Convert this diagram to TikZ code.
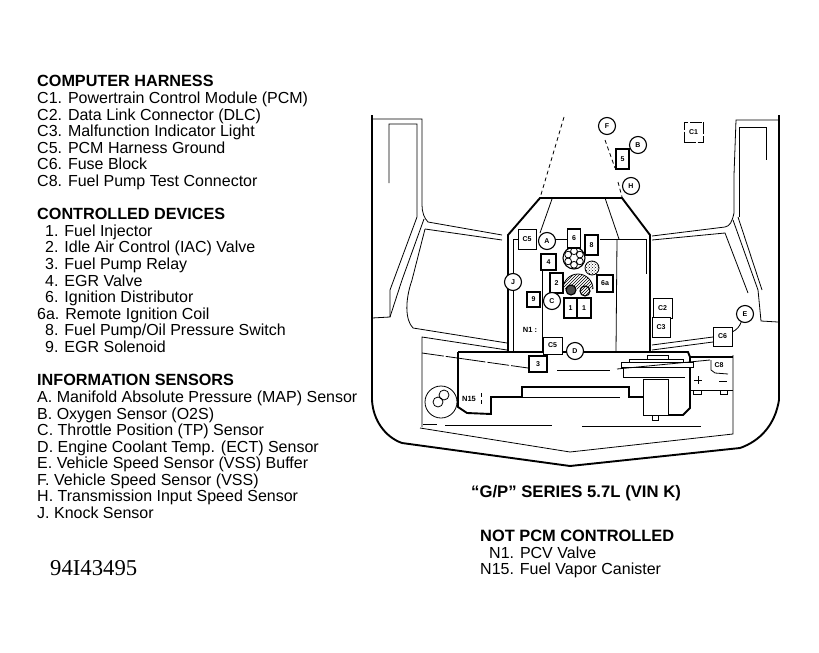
\documentclass[tikz,border=0pt]{standalone}
\usepackage{fontspec}
\setmainfont{Liberation Sans}
\newfontfamily\numserif{Liberation Serif}
\usetikzlibrary{patterns}
\usetikzlibrary{positioning}
\tikzset{
    thinline/.style={line width=0.8pt},
    thickline/.style={line width=1.9pt},
    brokenline/.style={line width=0.8pt, dash pattern=on 22pt off 2pt on 40pt off 2pt},
    dotline/.style={line width=0.8pt, dash pattern=on 4pt off 3pt},
    circlab/.style={draw, circle, line width=1.1pt, fill=white, minimum size=17pt, inner sep=0pt, font=\fontsize{7}{7}\selectfont\bfseries},
    boxlab/.style={draw, rectangle, line width=1.7pt, fill=white, inner sep=0pt, font=\fontsize{7}{7}\selectfont\bfseries},
    lightbox/.style={draw, rectangle, line width=0.7pt, fill=white, inner sep=0pt, font=\fontsize{7}{7}\selectfont\bfseries},
    listtext/.style={anchor=base west, inner sep=0pt, font=\fontsize{16}{18}\selectfont},
    headtext/.style={anchor=base west, inner sep=0pt, font=\fontsize{16.2}{18}\selectfont\bfseries},
}
\begin{document}
\begin{tikzpicture}[x=1pt,y=-1pt]
    \useasboundingbox (0,0) rectangle (819,653);

    \node[headtext] at (37,86) {COMPUTER HARNESS};
    \foreach \yy/\xx/\txt in {103/37/{C1. Powertrain Control Module (PCM)}, 120/37/{C2. Data Link Connector (DLC)}, 136/37/{C3. Malfunction Indicator Light}, 153/37/{C5. PCM Harness Ground}, 169/37/{C6. Fuse Block}, 186/37/{C8. Fuel Pump Test Connector}, 236/45/{1. Fuel Injector}, 252/45/{2. Idle Air Control (IAC) Valve}, 269/45/{3. Fuel Pump Relay}, 286/45/{4. EGR Valve}, 302/45/{6. Ignition Distributor}, 319/37/{6a. Remote Ignition Coil}, 335/45/{8. Fuel Pump/Oil Pressure Switch}, 352/45/{9. EGR Solenoid}, 402/37/{A. Manifold Absolute Pressure (MAP) Sensor}, 419/37/{B. Oxygen Sensor (O2S)}, 435/37/{C. Throttle Position (TP) Sensor}, 452/37/{D. Engine Coolant Temp. (ECT) Sensor}, 468/37/{E. Vehicle Speed Sensor (VSS) Buffer}, 485/37/{F. Vehicle Speed Sensor (VSS)}, 501/37/{H. Transmission Input Speed Sensor}, 518/37/{J. Knock Sensor}}
        \node[listtext] at (\xx,\yy) {\txt};
    \node[headtext] at (37,219) {CONTROLLED DEVICES};
    \node[headtext] at (37,385) {INFORMATION SENSORS};
    \node[anchor=base west, inner sep=0pt, font=\numserif\fontsize{22.7}{24}\selectfont] at (50,575) {94I43495};
    \node[headtext, font=\fontsize{16.7}{18}\selectfont\bfseries] at (471,497) {“G/P” SERIES 5.7L (VIN K)};
    \node[headtext, font=\fontsize{16.4}{18}\selectfont\bfseries] at (480,541) {NOT PCM CONTROLLED};
    \node[listtext] at (489,558) {N1. PCV Valve};
    \node[listtext] at (480,574) {N15. Fuel Vapor Canister};

    \draw[thickline] (372,115) -- (372,400) .. controls (373,420) and (385,437) .. (402,443) -- (570,466) -- (740,448) .. controls (760,441) and (775,425) .. (779,400) -- (779,115);
    \draw[thinline] (372,119) -- (422,119) -- (422,205) .. controls (422,212) and (424,218) .. (428,222) -- (502,235);
    \draw[thinline] (389,183) -- (389,124) -- (417,124) -- (417,217) -- (390,290) -- (390,317) -- (372,318);
    \draw[thinline] (424,219) -- (402,280) -- (390,317);
    \draw[thinline] (425,229) -- (502,240);
    \draw[thinline] (425,229) -- (412,280) .. controls (405,300) and (405,320) .. (413,328) -- (507,343);
    \draw[thinline] (422,427) -- (422,337) -- (507,350);
    \draw[brokenline] (422,353) -- (528,368);
    \draw[thinline] (420,428) -- (570,452) -- (733,434) -- (733,355);
    \draw[thinline] (423,424) -- (437,424) (445,425) -- (552,425) (582,426) -- (701,426);

    \draw[thinline] (779,120) -- (736,120) -- (734,175) -- (734,213) .. controls (732,222) and (730,226) .. (725,227) -- (652,236);
    \draw[thinline] (652,240) -- (725,233) -- (748,293);
    \draw[thinline] (739,217) -- (739,127) -- (766,127) -- (766,160);
    \draw[thinline] (733,220) -- (758,290) -- (761,321) -- (778,322);
    \draw[thinline] (738,217) -- (762,290);

    \draw[thickline] (508,352) -- (508,235) -- (540,198) -- (622,198) -- (650,235) -- (650,352);
    \draw[thinline] (513,352) -- (513,239) -- (518,239);
    \draw[thinline] (552,199) -- (540,233);
    \draw[thinline] (605,198) -- (619,239);
    \draw[thinline] (600,239) -- (646,239) -- (646,274);
    \draw[thinline] (617,239) -- (616,352);
    \draw[thinline] (542,270) -- (542,352);
    \draw[thinline] (554,239) -- (567,239);
    \draw[dotline] (564,117) -- (540,198);
    \draw[dotline] (605,140) -- (615,168);
    \draw[dotline] (618,182) -- (622,197);
    \draw[thinline] (652,345) -- (713,337);
    \draw[thinline] (652,350) -- (713,342);

    \draw[thickline] (458,352) -- (688,352) -- (690,357) -- (690,408) -- (683,415) -- (668,415);
    \draw[thickline] (458,352) -- (458,407) -- (467,413) -- (491,414) -- (491,397) -- (522,397) -- (522,387) -- (629,387) -- (629,397) -- (643,397);
    \draw[thinline] (522,397) -- (620,397);
    \draw[thinline, fill=white] (647,355) rectangle (668,359);
    \draw[thinline, fill=white] (629,359) rectangle (683,362);
    \draw[thinline] (623,367) -- (623,377) -- (685,377);
    \draw[thinline, fill=white] (621,362) rectangle (693,367);
    \draw[thinline, fill=white] (643,379) rectangle (668,415);
    \draw[thinline] (652,415) -- (652,420) -- (658,420) -- (658,415);
    \draw[thinline] (557,370) -- (610,370);
    \draw[thinline] (617,369) -- (710,360);

    \draw[line width=1.3pt] (690,357) -- (733,357);
    \draw[thinline] (690,390) -- (733,390);
    \draw[thinline] (693,390) rectangle (701,394);
    \draw[thinline] (720,390) rectangle (727,394);
    \draw[thinline] (698,376) -- (698,384) (694,380) -- (702,380);
    \draw[thinline] (719,381) -- (727,381);
    \draw[thinline] (711,360) -- (711,370) -- (715,373) -- (728,374);
    \node[font=\fontsize{7}{7}\selectfont\bfseries] (c8) at (719,365) {C8};

    \draw[thinline, fill=white] (441,402) circle (16);
    \draw[thinline] (438,402) circle (5);
    \draw[thinline] (444,395) circle (5);
    \node[font=\fontsize{7.5}{7.5}\selectfont\bfseries] (n15) at (469,399) {N15};
    \draw[dotline] (481,393) -- (481,405);
    \node[font=\fontsize{7.5}{7.5}\selectfont\bfseries] (n1) at (530,330) {N1 :};

    \draw[thinline, pattern=north east lines] (563,289) arc[start angle=180, end angle=360, radius=15];
    \draw[line width=1.1pt, fill=black!70] (571,290) circle (5);
    \draw[line width=1.1pt, fill=white, postaction={pattern=north east lines}] (585,291) circle (5);
    \draw[line width=1.1pt, fill=white] (574,258) circle (11);
    \foreach \aa in {30,90,...,330}
        \draw[thinline] (574,258) ++(\aa:6.8) circle (3.4);
    \draw[thinline, pattern=crosshatch dots] (592,268) circle (7);

    \node[boxlab, minimum width=13pt, minimum height=19pt] (f6) at (574,238.5) {6};
    \node[boxlab, minimum width=13pt, minimum height=20pt] (f8) at (591.5,245) {8};
    \node[boxlab, minimum width=15pt, minimum height=16pt] (f4) at (548.5,262) {4};
    \node[boxlab, minimum width=13pt, minimum height=20pt] (f2) at (556.5,283) {2};
    \node[boxlab, minimum width=16pt, minimum height=17pt] (f6a) at (605,283.5) {6a};
    \node[boxlab, minimum width=13pt, minimum height=15pt] (f9) at (533.5,299.5) {9};
    \node[boxlab, minimum width=13.5pt, minimum height=20pt] (f1a) at (570.5,308) {1};
    \node[boxlab, minimum width=13.5pt, minimum height=20pt] (f1b) at (584,308) {1};
    \node[boxlab, minimum width=18pt, minimum height=16pt] (f3) at (538,364) {3};
    \node[boxlab, minimum width=13pt, minimum height=20pt] (f5) at (622.5,159) {5};

    \node[lightbox, minimum width=18pt, minimum height=20pt] (c5a) at (527,239) {C5};
    \node[lightbox, minimum width=19pt, minimum height=17pt] (c5b) at (552.5,345.5) {C5};
    \node[lightbox, minimum width=19pt, minimum height=20pt] (c2) at (662.5,308) {C2};
    \node[lightbox, minimum width=18pt, minimum height=20pt] (c3) at (661,327) {C3};
    \node[lightbox, minimum width=19pt, minimum height=19pt] (c6) at (722.5,336.5) {C6};
    \node[lightbox, dash pattern=on 12pt off 1.5pt, minimum width=19pt, minimum height=20pt] (c1) at (693.5,132) {C1};

    \node[circlab] (a) at (547,241) {A};
    \node[circlab] (j) at (513,282) {J};
    \node[circlab] (c) at (552,301) {C};
    \node[circlab] (d) at (575,351) {D};
    \node[circlab] (e) at (745,314) {E};
    \node[circlab] (ff) at (607,126) {F};
    \node[circlab] (b) at (638,145) {B};
    \node[circlab] (h) at (631,186) {H};
    \draw[thinline] (c6) to[bend right=20] (e);
\end{tikzpicture}
\end{document}
